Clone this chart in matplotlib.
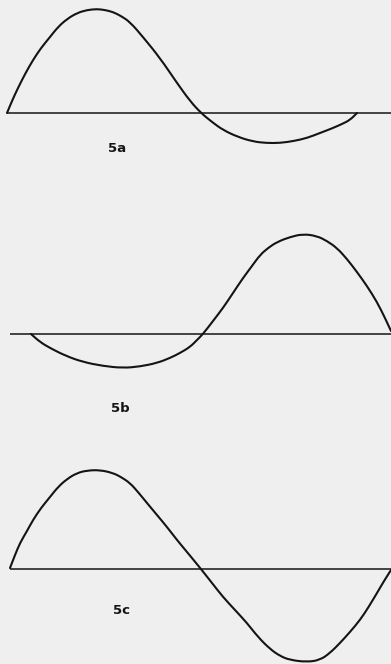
import matplotlib
matplotlib.use("Agg")
import matplotlib.pyplot as plt
from matplotlib.path import Path
from matplotlib.patches import PathPatch

W, H = 391, 664
BG = "#efefef"
INK = "#141414"

# Panel 5a: x positions and displacement from baseline
xa = [7, 12, 17, 25, 33, 41, 50, 58, 67, 77, 87, 97, 105, 113, 121, 130, 143, 160, 177, 190, 201,
      212, 223, 238, 253, 266, 280, 294, 307, 320, 333, 342, 350, 357]
ya = [0, 12, 23, 39, 53, 65, 76, 86, 94, 100, 103, 104, 103, 101, 97, 91, 76, 55, 30, 12, 0,
      -9, -17, -24, -28.5, -30, -30, -28, -25, -20, -15, -11, -7, 0]

# Panel 5b
xb = [31, 40, 50, 66, 83, 103, 123, 140, 157, 170, 180, 190, 197, 203, 213, 223, 233, 243, 252,
      260, 268, 277, 290, 303, 317, 327, 337, 347, 357, 367, 377, 385, 391]
yb = [0, -8, -14, -22, -28, -32, -34, -32.5, -29, -24, -19, -13, -6, 0, 13, 26, 41, 56, 68,
      79, 86, 92, 97, 100, 98, 93, 86, 75, 62, 48, 32, 16, 3]

# Panel 5c
xc = [10, 15, 20, 27, 33, 41, 50, 58, 67, 77, 87, 100, 113, 121, 130, 138, 147, 157, 167, 177, 187,
      201, 212, 223, 235, 247, 258, 270, 280, 290, 307, 320, 330, 340, 350, 360, 368, 377, 384, 391]
yc = [1, 14, 26, 38, 49, 61, 72, 82, 90, 96, 98.5, 99, 96, 92, 86, 77, 66, 54, 42, 29, 17,
      0, -14, -28, -41, -54, -68, -80, -87, -91, -93, -91, -84, -74, -63, -51, -39, -24, -12, -1]

labels = ["5a", "5b", "5c"]
label_x = [117, 120, 122]
label_y = [-35, -74, -42]

# baseline start x
base_x0 = [7, 10, 10]

# panel bands in pixels: (top, bottom, baseline)
bands = [(0, 200, 113), (200, 440, 334), (440, 664, 569)]


def smooth_path(xs, ys):
    pts = list(zip(xs, ys))
    verts = [pts[0]]
    codes = [Path.MOVETO]
    mid = lambda a, b: ((a[0] + b[0]) / 2, (a[1] + b[1]) / 2)
    verts.append(mid(pts[0], pts[1]))
    codes.append(Path.LINETO)
    for i in range(1, len(pts) - 1):
        verts += [pts[i], mid(pts[i], pts[i + 1])]
        codes += [Path.CURVE3, Path.CURVE3]
    verts.append(pts[-1])
    codes.append(Path.LINETO)
    return Path(verts, codes)


fig = plt.figure(figsize=(W / 100, H / 100), dpi=100, facecolor=BG)

series = [(xa, ya), (xb, yb), (xc, yc)]
for i, ((top, bot, base), (xs, ys)) in enumerate(zip(bands, series)):
    ax = fig.add_axes([0, 1 - bot / H, 1, (bot - top) / H])
    ax.set_facecolor(BG)
    ax.set_xlim(0, W)
    ax.set_ylim(base - bot, base - top)
    ax.axis("off")
    ax.plot([base_x0[i], W], [0, 0], color=INK, lw=1.1, solid_capstyle="butt")
    ax.add_patch(PathPatch(smooth_path(xs, ys), facecolor="none", edgecolor=INK,
                           lw=1.5, joinstyle="round", capstyle="round"))
    ax.text(label_x[i], label_y[i], labels[i], ha="center", va="center",
            fontsize=9.5, fontweight="bold", color=INK, family="DejaVu Sans")

fig.savefig("out.png", dpi=100, facecolor=BG)
